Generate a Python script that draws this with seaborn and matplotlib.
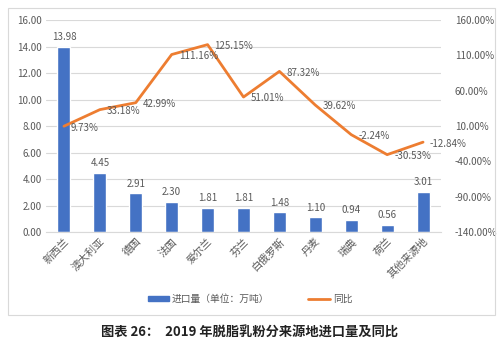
import numpy as np
import pandas as pd
import seaborn as sns
import matplotlib.pyplot as plt
from matplotlib.patches import Rectangle
from matplotlib.lines import Line2D
from matplotlib.patches import Patch

sns.set_style("white")
plt.rcParams['font.family'] = ['Noto Sans CJK SC', 'DejaVu Sans']

# Data
countries = ["新西兰", "澳大利亚", "德国", "法国", "爱尔兰", "芬兰",
             "白俄罗斯", "丹麦", "瑞典", "荷兰", "其他来源地"]
import_vol = [13.98, 4.45, 2.91, 2.30, 1.81, 1.81, 1.48, 1.10, 0.94, 0.56, 3.01]
yoy_pct = [9.73, 33.18, 42.99, 111.16, 125.15, 51.01, 87.32, 39.62, -2.24, -30.53, -12.84]

df = pd.DataFrame({"country": countries, "vol": import_vol, "yoy": yoy_pct})

bar_color = "#4472C4"
line_color = "#ED7D31"
txt_color = "#595959"
fs = 7

fig = plt.figure(figsize=(5, 3.51), dpi=100)
fig.patches.append(Rectangle((8 / 500, 1 - 315 / 351), 487 / 500, 307 / 351,
                             transform=fig.transFigure, fill=False,
                             edgecolor="#D9D9D9", linewidth=0.8))
ax = fig.add_axes([0.092, 0.339, 0.79, 0.604])

sns.barplot(data=df, x="country", y="vol", color=bar_color, width=0.36,
            saturation=1, ax=ax)
ax.set_ylim(0, 16)
ax.set_yticks(np.arange(0, 17, 2))
ax.set_yticklabels([f"{v:.2f}" for v in np.arange(0, 17, 2)], fontsize=fs, color=txt_color)
ax.yaxis.grid(True, color="#D9D9D9", linewidth=0.8)
ax.set_axisbelow(True)
for s in ax.spines.values():
    s.set_visible(False)
ax.spines["bottom"].set_visible(True)
ax.spines["bottom"].set_color("#D9D9D9")
ax.tick_params(axis="both", length=0, pad=3)
ax.set_xlabel("")
ax.set_ylabel("")
ax.set_xticks(range(len(countries)))
ax.set_xticklabels(countries, rotation=45, ha="right", rotation_mode="anchor",
                   fontsize=7.5, color=txt_color)
for i, v in enumerate(import_vol):
    ax.text(i, v + 0.35, f"{v:.2f}", ha="center", va="bottom", fontsize=fs, color=txt_color)

ax2 = ax.twinx()
sns.lineplot(x=np.arange(len(countries)), y=yoy_pct, color=line_color, linewidth=2,
             ax=ax2)
ax2.set_ylim(-140, 160)
ax2.set_yticks(np.arange(-140, 161, 50))
ax2.set_yticklabels([f"{v:.2f}%" for v in np.arange(-140, 161, 50)], fontsize=fs, color=txt_color)
ax2.tick_params(axis="y", length=0, pad=10)
for s in ax2.spines.values():
    s.set_visible(False)
for i, v in enumerate(yoy_pct):
    ax2.annotate(f"{v:.2f}%", (i, v), xytext=(5, -1), textcoords="offset points",
                 ha="left", va="center", fontsize=fs, color=txt_color)
ax.set_xlim(-0.5, len(countries) - 0.5)

handles = [Patch(color=bar_color), Line2D([0], [0], color=line_color, linewidth=2)]
fig.legend(handles, ["进口量（单位：万吨）", "同比"], loc="center", bbox_to_anchor=(0.5, 1 - 299 / 351),
           ncol=2, frameon=False, fontsize=fs, labelcolor=txt_color,
           handlelength=2.2, handleheight=0.5, columnspacing=4, handletextpad=0.3)

fig.text(0.5, 1 - 333 / 351, "图表 26：  2019 年脱脂乳粉分来源地进口量及同比",
         ha="center", va="center", fontsize=9.5, fontweight="bold", color="#222222")

fig.savefig("out.png", dpi=100)
